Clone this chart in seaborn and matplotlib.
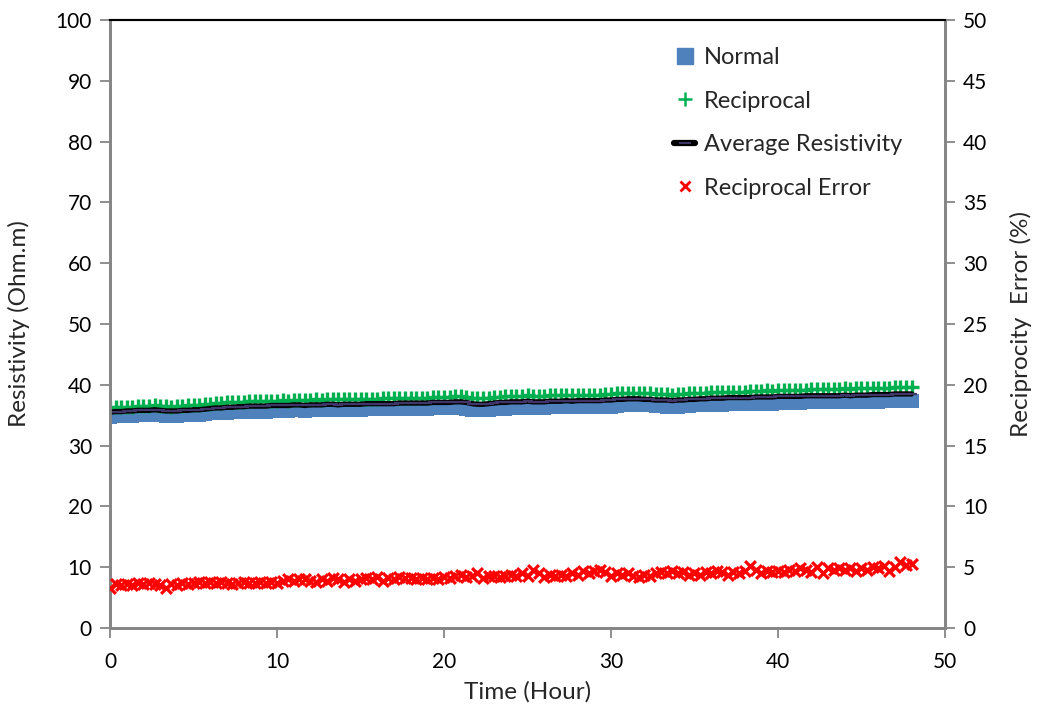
import numpy as np
import pandas as pd
import matplotlib
matplotlib.use("Agg")
import matplotlib.pyplot as plt
import seaborn as sns
from matplotlib.lines import Line2D

# Time (hours), one measurement every 20 minutes, 0 .. 48 h
time_h = [i / 3 for i in range(145)]

normal = [
    34.7, 34.8, 34.8, 34.9, 34.9, 35.0, 35.0, 35.0, 35.1, 35.0, 34.9, 34.9,
    34.9, 35.0, 35.0, 35.1, 35.1, 35.2, 35.3, 35.3, 35.4, 35.4, 35.5, 35.5,
    35.5, 35.6, 35.6, 35.6, 35.6, 35.7, 35.7, 35.7, 35.7, 35.8, 35.8, 35.7,
    35.8, 35.8, 35.8, 35.9, 35.9, 35.8, 35.9, 35.9, 35.9, 35.9, 36.0, 36.0,
    36.0, 36.0, 36.0, 36.0, 36.1, 36.1, 36.1, 36.1, 36.1, 36.1, 36.2, 36.2,
    36.2, 36.2, 36.2, 36.2, 36.1, 35.9, 35.8, 35.8, 35.9, 36.0, 36.1, 36.1,
    36.2, 36.2, 36.2, 36.3, 36.2, 36.2, 36.2, 36.3, 36.3, 36.3, 36.3, 36.3,
    36.4, 36.4, 36.3, 36.3, 36.3, 36.4, 36.4, 36.5, 36.6, 36.6, 36.7, 36.7,
    36.6, 36.6, 36.5, 36.5, 36.4, 36.4, 36.4, 36.5, 36.5, 36.6, 36.6, 36.6,
    36.7, 36.7, 36.7, 36.8, 36.8, 36.8, 36.8, 36.8, 36.9, 36.9, 36.9, 36.9,
    37.0, 37.0, 37.0, 37.0, 37.0, 37.1, 37.1, 37.1, 37.1, 37.1, 37.1, 37.1,
    37.2, 37.1, 37.2, 37.2, 37.2, 37.2, 37.2, 37.3, 37.3, 37.3, 37.3, 37.3,
    37.3,
]

reciprocal = [
    36.2, 36.3, 36.3, 36.4, 36.4, 36.5, 36.5, 36.5, 36.6, 36.5, 36.5, 36.4,
    36.5, 36.5, 36.6, 36.7, 36.7, 36.8, 36.9, 37.0, 37.0, 37.1, 37.1, 37.2,
    37.2, 37.3, 37.3, 37.3, 37.4, 37.4, 37.4, 37.5, 37.4, 37.5, 37.5, 37.5,
    37.5, 37.6, 37.5, 37.6, 37.6, 37.6, 37.6, 37.7, 37.6, 37.7, 37.7, 37.7,
    37.7, 37.8, 37.8, 37.8, 37.8, 37.9, 37.9, 37.9, 37.9, 37.9, 38.0, 38.0,
    38.0, 38.0, 38.1, 38.1, 38.0, 37.8, 37.8, 37.8, 37.9, 38.0, 38.0, 38.1,
    38.1, 38.2, 38.2, 38.3, 38.2, 38.2, 38.2, 38.3, 38.3, 38.3, 38.4, 38.3,
    38.4, 38.4, 38.4, 38.4, 38.4, 38.5, 38.5, 38.6, 38.6, 38.7, 38.7, 38.7,
    38.6, 38.6, 38.5, 38.5, 38.5, 38.4, 38.5, 38.5, 38.6, 38.6, 38.7, 38.7,
    38.8, 38.8, 38.8, 38.9, 38.9, 38.9, 38.9, 39.0, 39.0, 39.0, 39.1, 39.0,
    39.1, 39.1, 39.2, 39.2, 39.2, 39.2, 39.3, 39.3, 39.3, 39.3, 39.3, 39.3,
    39.4, 39.3, 39.4, 39.4, 39.4, 39.5, 39.5, 39.5, 39.5, 39.6, 39.6, 39.6,
    39.6,
]

average = [
    35.5, 35.6, 35.6, 35.7, 35.7, 35.8, 35.8, 35.8, 35.9, 35.8, 35.7, 35.7,
    35.7, 35.8, 35.8, 35.9, 35.9, 36.0, 36.1, 36.2, 36.2, 36.3, 36.3, 36.4,
    36.4, 36.5, 36.5, 36.5, 36.5, 36.6, 36.6, 36.6, 36.6, 36.7, 36.7, 36.6,
    36.7, 36.7, 36.7, 36.8, 36.8, 36.7, 36.8, 36.8, 36.8, 36.8, 36.9, 36.9,
    36.9, 36.9, 36.9, 36.9, 37.0, 37.0, 37.0, 37.0, 37.0, 37.0, 37.1, 37.1,
    37.1, 37.1, 37.2, 37.2, 37.1, 36.9, 36.8, 36.8, 36.9, 37.0, 37.1, 37.1,
    37.2, 37.2, 37.2, 37.3, 37.2, 37.2, 37.2, 37.3, 37.3, 37.3, 37.4, 37.3,
    37.4, 37.4, 37.4, 37.4, 37.4, 37.5, 37.5, 37.6, 37.6, 37.7, 37.7, 37.7,
    37.6, 37.6, 37.5, 37.5, 37.5, 37.4, 37.5, 37.5, 37.6, 37.6, 37.7, 37.7,
    37.8, 37.8, 37.8, 37.9, 37.9, 37.9, 37.9, 37.9, 38.0, 38.0, 38.0, 38.0,
    38.1, 38.1, 38.1, 38.1, 38.1, 38.2, 38.2, 38.2, 38.2, 38.2, 38.2, 38.2,
    38.3, 38.2, 38.3, 38.3, 38.3, 38.4, 38.4, 38.4, 38.4, 38.5, 38.5, 38.5,
    38.5,
]

recip_error = [
    3.3, 3.6, 3.5, 3.6, 3.5, 3.7, 3.6, 3.7, 3.6, 3.5, 3.3, 3.6,
    3.5, 3.7, 3.6, 3.7, 3.8, 3.7, 3.8, 3.7, 3.8, 3.7, 3.6, 3.7,
    3.8, 3.7, 3.7, 3.8, 3.7, 3.8, 3.7, 3.9, 4.0, 3.9, 4.0, 4.0,
    3.9, 3.8, 4.0, 3.9, 4.1, 4.0, 3.8, 4.0, 3.9, 4.0, 4.1, 4.0,
    4.2, 3.9, 4.1, 4.0, 4.2, 4.1, 4.1, 4.0, 4.1, 4.0, 4.1, 4.0,
    4.2, 4.1, 4.3, 4.4, 4.2, 4.3, 4.5, 4.1, 4.3, 4.3, 4.2, 4.3,
    4.4, 4.3, 4.5, 4.3, 4.8, 4.5, 4.2, 4.4, 4.3, 4.4, 4.3, 4.5,
    4.4, 4.7, 4.5, 4.7, 4.8, 4.6, 4.3, 4.5, 4.4, 4.5, 4.3, 4.2,
    4.4, 4.3, 4.5, 4.6, 4.5, 4.7, 4.5, 4.6, 4.4, 4.5, 4.4, 4.6,
    4.5, 4.7, 4.6, 4.4, 4.6, 4.5, 4.7, 5.1, 4.8, 4.5, 4.7, 4.6,
    4.7, 4.6, 4.8, 4.7, 4.9, 4.8, 4.6, 5.0, 4.5, 4.9, 4.8, 4.9,
    4.8, 4.9, 4.7, 4.9, 4.8, 5.0, 4.9, 5.1, 4.7, 5.0, 5.4, 5.2,
    5.3,
]

left_ticks = list(range(0, 101, 10))
right_ticks = list(range(0, 51, 5))
x_ticks = list(range(0, 51, 10))

df = pd.DataFrame({
    "Time": time_h,
    "Normal": normal,
    "Reciprocal": reciprocal,
    "Average": average,
    "Error": recip_error,
})

sns.set_theme(style="white")
plt.rcParams["font.family"] = ["Lato", "DejaVu Sans"]

C_BLUE = "#4F81BD"
C_GREEN = "#00B050"
C_RED = "#FF0000"
C_GRAY = "#868686"
C_PURPLE = "#3F3567"

fig = plt.figure(figsize=(10.39, 7.09), dpi=100)
ax = fig.add_axes([0.1059, 0.1142, 0.8036, 0.8576])
ax2 = ax.twinx()

sns.scatterplot(data=df, x="Time", y="Normal", ax=ax, marker="s", s=105,
                color=C_BLUE, edgecolor=C_BLUE, linewidth=0, zorder=2)
sns.scatterplot(data=df, x="Time", y="Reciprocal", ax=ax, marker="+", s=100,
                color=C_GREEN, linewidth=2.4, zorder=3)
sns.lineplot(data=df, x="Time", y="Average", ax=ax, color="black", lw=3.8,
             marker="_", markersize=7, markeredgewidth=1.6,
             markeredgecolor=C_PURPLE, zorder=4)
sns.scatterplot(data=df, x="Time", y="Error", ax=ax2, marker="x", s=60,
                color=C_RED, linewidth=2.3, zorder=3)

ax.set_xlim(0, 50)
ax.set_ylim(0, 100)
ax2.set_ylim(0, 50)
ax.set_xticks(x_ticks)
ax.set_yticks(left_ticks)
ax2.set_yticks(right_ticks)

fs_tick = 15
fs_lab = 17.5
ax.tick_params(axis="y", labelsize=fs_tick, colors=C_GRAY, labelcolor="black",
               direction="out", length=7, width=1.3, pad=6, left=True)
ax.tick_params(axis="x", labelsize=fs_tick, colors=C_GRAY, labelcolor="black",
               direction="out", length=7, width=1.3, pad=10, bottom=True)
ax2.tick_params(axis="y", labelsize=fs_tick, colors=C_GRAY, labelcolor="black",
                direction="out", length=7, width=1.3, pad=6, right=True)

for a in (ax, ax2):
    for name, sp in a.spines.items():
        sp.set_visible(True)
        sp.set_color(C_GRAY)
        sp.set_linewidth(2.0)
    a.spines["top"].set_color("black")
    a.spines["top"].set_linewidth(1.5)

ax.set_xlabel("Time (Hour)", fontsize=fs_lab)
ax.set_ylabel("Resistivity (Ohm.m)", fontsize=fs_lab)
ax2.set_ylabel("Reciprocity  Error (%)", fontsize=fs_lab)
ax.xaxis.set_label_coords(0.5, -0.087)
ax.yaxis.set_label_coords(-0.096, 0.5)
ax2.yaxis.set_label_coords(1.078, 0.5)
ax.grid(False)
ax2.grid(False)

handles = [
    Line2D([], [], linestyle="none", marker="s", markersize=11,
           color=C_BLUE, markeredgecolor=C_BLUE),
    Line2D([], [], linestyle="none", marker="+", markersize=10,
           markeredgewidth=1.8, color=C_GREEN),
    Line2D([], [], color="black", lw=4.5, marker="_", markersize=9,
           markeredgewidth=1.5, markeredgecolor=C_PURPLE),
    Line2D([], [], linestyle="none", marker="x", markersize=6.5,
           markeredgewidth=2.0, color=C_RED),
]
labels = ["Normal", "Reciprocal", "Average Resistivity", "Reciprocal Error"]
leg = ax2.legend(handles, labels, loc="upper left",
                 bbox_to_anchor=(0.65, 0.99), frameon=False, fontsize=17,
                 handlelength=0.9, handletextpad=0.35, labelspacing=0.95)

fig.savefig("out.png", dpi=100)
